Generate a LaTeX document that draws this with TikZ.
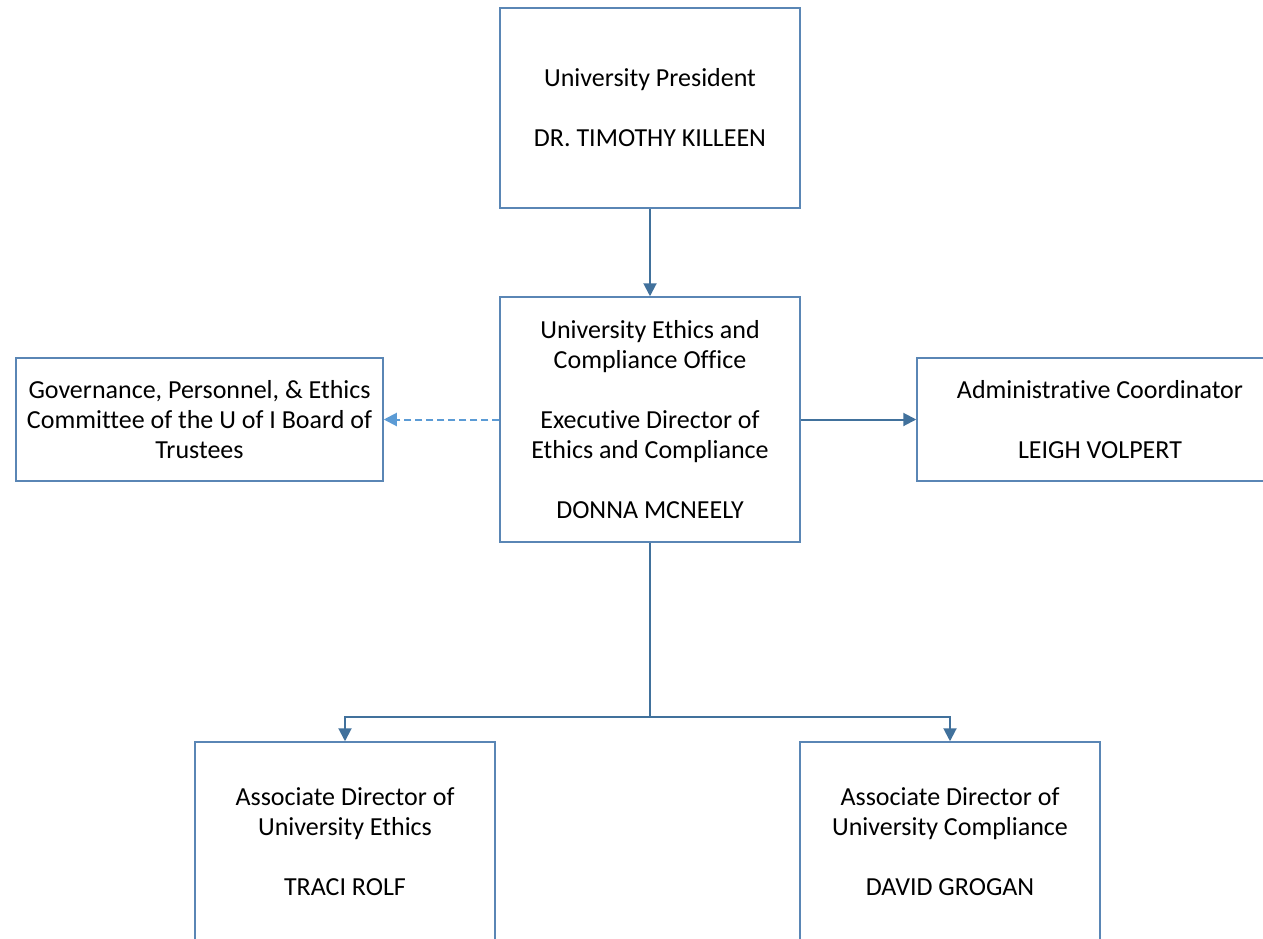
\documentclass[tikz,border=0pt]{standalone}
\usepackage{fontspec}
\setmainfont{Carlito}[Ligatures={NoCommon}]
\usetikzlibrary{arrows.meta}
\definecolor{boxblue}{HTML}{5A86B5}
\definecolor{linkblue}{HTML}{41719C}
\definecolor{dashblue}{HTML}{5B9BD5}
\tikzset{
  orgbox/.style={draw=boxblue, line width=1.5pt, fill=white, rectangle, align=center,
    inner sep=0pt, font=\fontsize{26}{30}\selectfont, text=black},
  link/.style={draw=linkblue, line width=2pt, -{Triangle[length=13pt,width=13pt]}},
  plain/.style={draw=linkblue, line width=2pt},
  dlink/.style={draw=dashblue, line width=2pt, dash pattern=on 7pt off 4pt,
    -{Triangle[length=13pt,width=13pt,fill=dashblue]}}
}
\begin{document}
\begin{tikzpicture}[x=1pt,y=1pt]
\useasboundingbox (0,0) rectangle (1263,-939);
\clip (0,0) rectangle (1263,-939);
\fill[white] (0,0) rectangle (1263,-939);
\node[orgbox, minimum width=300pt, minimum height=200pt] (pres) at (650,-108)
  {University President\\ \mbox{}\\ DR. TIMOTHY KILLEEN};
\node[orgbox, minimum width=300pt, minimum height=245pt] (ethics) at (650,-419.5)
  {University Ethics and\\ Compliance Office\\ \mbox{}\\ Executive Director of\\ Ethics and Compliance\\ \mbox{}\\ DONNA MCNEELY};
\node[orgbox, minimum width=367pt, minimum height=123pt] (gov) at (199.5,-419.5)
  {Governance, Personnel, \& Ethics\\ Committee of the U of I Board of\\ Trustees};
\node[orgbox, minimum width=366pt, minimum height=123pt] (admin) at (1100,-419.5)
  {Administrative Coordinator\\ \mbox{}\\ LEIGH VOLPERT};
\node[orgbox, minimum width=300pt, minimum height=200pt] (assoc1) at (345,-842)
  {Associate Director of\\ University Ethics\\ \mbox{}\\ TRACI ROLF};
\node[orgbox, minimum width=300pt, minimum height=200pt] (assoc2) at (950,-842)
  {Associate Director of\\ University Compliance\\ \mbox{}\\ DAVID GROGAN};
\coordinate (bus) at (650,-717);
\draw[link] (pres.south) -- (ethics.north);
\draw[dlink] (ethics.west) -- (gov.east);
\draw[link] (ethics.east) -- (admin.west);
\draw[plain] (ethics.south) -- (bus);
\draw[link] (bus) -| (assoc1.north);
\draw[link] (bus) -| (assoc2.north);
\end{tikzpicture}
\end{document}
